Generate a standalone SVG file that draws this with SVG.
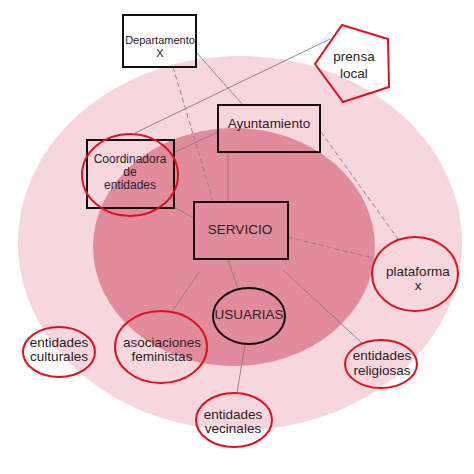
<svg xmlns="http://www.w3.org/2000/svg" width="474" height="474" viewBox="0 0 474 474">
<style>
text{font-family:"Liberation Sans",Arial,sans-serif;fill:#2a2226;text-anchor:middle}
.t{font-size:13.5px}
.c{font-size:12px}
.s{font-size:11px}
.box{fill:none;stroke:#111;stroke-width:2}
.red{fill:none;stroke:#e0101e;stroke-width:2}
.blk{fill:none;stroke:#111;stroke-width:2}
.ln{stroke:#8a7c82;stroke-width:0.9;fill:none}
.dash{stroke-dasharray:5 3}
</style>
<rect width="474" height="474" fill="#ffffff"/>
<g id="zones">
<ellipse cx="240" cy="243" rx="222" ry="187" fill="#f6d7de"/>
<ellipse cx="234" cy="247" rx="141" ry="119" fill="#e28b9b"/>
</g>
<g id="connectors">
<line class="ln dash" x1="173" y1="67" x2="213" y2="201"/>
<line class="ln" x1="196" y1="52" x2="243" y2="105"/>
<line class="ln" x1="330" y1="39" x2="135" y2="133"/>
<line class="ln" x1="218" y1="132" x2="175" y2="152"/>
<line class="ln" x1="228" y1="152" x2="228" y2="202"/>
<line class="ln dash" x1="321" y1="132" x2="398" y2="239"/>
<line class="ln dash" x1="288" y1="237" x2="373" y2="258"/>
<line class="ln" x1="174" y1="207" x2="194" y2="218"/>
<line class="ln" x1="199" y1="272" x2="172" y2="312"/>
<line class="ln" x1="228" y1="260" x2="238" y2="289"/>
<line class="ln" x1="283" y1="270" x2="362" y2="343"/>
<line class="ln" x1="245" y1="344" x2="237" y2="393"/>
</g>
<g id="departamento">
<rect class="box" x="123" y="15" width="73" height="52" fill="#fff"/>
<text class="s" x="160" y="44">Departamento</text>
<text class="s" x="160" y="57">X</text>
</g>
<g id="prensa">
<polygon class="red" points="342,25 388,39 389,87 343,102 315,64" fill="#fff"/>
<text class="t" x="354" y="61">prensa</text>
<text class="t" x="354" y="78">local</text>
</g>
<g id="ayuntamiento">
<rect class="box" x="218" y="105" width="102" height="47" fill="#f8e1e6"/>
<text class="t" x="269" y="128">Ayuntamiento</text>
</g>
<g id="coordinadora">
<rect class="box" x="87" y="140" width="87" height="68" fill="#ffffff" fill-opacity="0.2"/>
<ellipse class="red" cx="130" cy="175" rx="48" ry="41"/>
<text class="c" x="130" y="163">Coordinadora</text>
<text class="c" x="130" y="176">de</text>
<text class="c" x="130" y="189">entidades</text>
</g>
<g id="servicio">
<rect class="box" x="194" y="202" width="94" height="57"/>
<text class="t" x="240" y="234">SERVICIO</text>
</g>
<g id="usuarias">
<ellipse class="blk" cx="249" cy="316" rx="36" ry="28"/>
<text class="t" x="249" y="319">USUARIAS</text>
</g>
<g id="plataforma">
<ellipse class="red" cx="415" cy="274" rx="43" ry="37"/>
<text class="t" x="418" y="276">plataforma</text>
<text class="t" x="418" y="290">x</text>
</g>
<g id="asociaciones">
<ellipse class="red" cx="161" cy="347" rx="46" ry="36"/>
<text class="t" x="162" y="347">asociaciones</text>
<text class="t" x="162" y="361">feministas</text>
</g>
<g id="culturales">
<ellipse class="red" cx="59" cy="352" rx="36" ry="25"/>
<text class="t" x="59" y="347">entidades</text>
<text class="t" x="59" y="361">culturales</text>
</g>
<g id="religiosas">
<ellipse class="red" cx="381" cy="364" rx="36" ry="24"/>
<text class="t" x="382" y="360">entidades</text>
<text class="t" x="382" y="375">religiosas</text>
</g>
<g id="vecinales">
<ellipse class="red" cx="234" cy="420" rx="38" ry="27"/>
<text class="t" x="233" y="419">entidades</text>
<text class="t" x="233" y="433">vecinales</text>
</g>
</svg>
